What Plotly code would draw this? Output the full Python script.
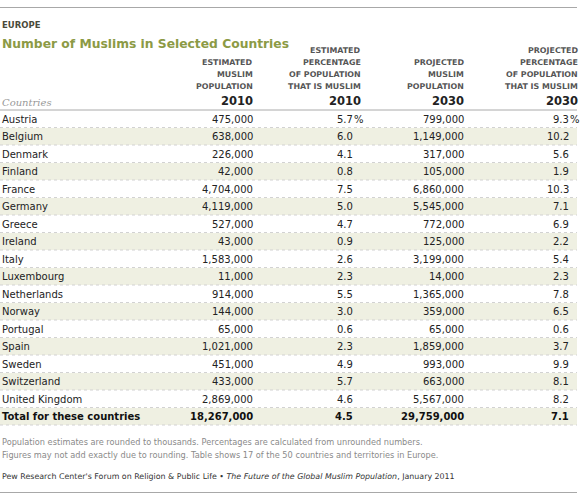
import plotly.graph_objects as go

countries = ["Austria", "Belgium", "Denmark", "Finland", "France", "Germany", "Greece",
             "Ireland", "Italy", "Luxembourg", "Netherlands", "Norway", "Portugal",
             "Spain", "Sweden", "Switzerland", "United Kingdom"]
muslims_2010 = [475000, 638000, 226000, 42000, 4704000, 4119000, 527000, 43000, 1583000,
                11000, 914000, 144000, 65000, 1021000, 451000, 433000, 2869000]
pct_2010 = [5.7, 6.0, 4.1, 0.8, 7.5, 5.0, 4.7, 0.9, 2.6, 2.3, 5.5, 3.0, 0.6, 2.3, 4.9, 5.7, 4.6]
muslims_2030 = [799000, 1149000, 317000, 105000, 6860000, 5545000, 772000, 125000, 3199000,
                14000, 1365000, 359000, 65000, 1859000, 993000, 663000, 5567000]
pct_2030 = [9.3, 10.2, 5.6, 1.9, 10.3, 7.1, 6.9, 2.2, 5.4, 2.3, 7.8, 6.5, 0.6, 3.7, 9.9, 8.1, 8.2]
total_label = "Total for these countries"
total_values = [18267000, 4.5, 29759000, 7.1]
years = ["2010", "2010", "2030", "2030"]
col_headers = [["ESTIMATED", "MUSLIM", "POPULATION"],
               ["ESTIMATED", "PERCENTAGE", "OF POPULATION", "THAT IS MUSLIM"],
               ["PROJECTED", "MUSLIM", "POPULATION"],
               ["PROJECTED", "PERCENTAGE", "OF POPULATION", "THAT IS MUSLIM"]]
kicker = "EUROPE"
title = "Number of Muslims in Selected Countries"
notes = ["Population estimates are rounded to thousands. Percentages are calculated from unrounded numbers.",
         "Figures may not add exactly due to rounding. Table shows 17 of the 50 countries and territories in Europe."]
source = "Pew Research Center's Forum on Religion & Public Life • <i>The Future of the Global Muslim Population</i>, January 2011"

W, H = 582, 498
FONT = "DejaVu Sans"
col_right = [252, 352, 463, 568]
header_right = [252, 360, 463, 577]
row_top0 = 110
row_h = 17.5
table_right = 577

fig = go.Figure()
fig.add_trace(go.Scatter(x=[0, W], y=[0, H], mode="markers", marker=dict(opacity=0),
                         hoverinfo="skip", showlegend=False))
# bottom rule drawn as a line trace
fig.add_trace(go.Scatter(x=[0, table_right], y=[492.5, 492.5], mode="lines",
                         line=dict(color="#a8a8a8", width=1), hoverinfo="skip",
                         showlegend=False, cliponaxis=False))

shapes = []
annotations = []

def text(x, y, s, size, color="#333", bold=False, anchor="left", family=FONT, italic=False):
    if bold:
        s = "<b>" + s + "</b>"
    if italic:
        s = "<i>" + s + "</i>"
    annotations.append(dict(x=x, y=y, xref="x", yref="y", text=s, showarrow=False,
                            xanchor=anchor, yanchor="middle",
                            font=dict(family=family, size=size, color=color),
                            borderpad=0))

# top rule
shapes.append(dict(type="line", x0=0, x1=table_right, y0=7.5, y1=7.5, line=dict(color="#a8a8a8", width=1)))

text(1, 25, kicker, 8.5, color="#4a4a3a", bold=True)
text(1, 44, title, 12.3, color="#8c9a45", bold=True)

# column headers
header_gap = 12
for c, lines in enumerate(col_headers):
    n = len(lines)
    for k, line in enumerate(lines):
        y = 86 - (n - 1 - k) * header_gap
        text(header_right[c] + 2, y, line, 7.9, color="#555", bold=True, anchor="right")
    text(header_right[c] + 2, 101, years[c], 11.5, color="#222", bold=True, anchor="right")

text(1, 102, "Countries", 10, color="#999", italic=True, family="DejaVu Serif")
shapes.append(dict(type="line", x0=0, x1=table_right, y0=row_top0, y1=row_top0,
                   line=dict(color="#aaaaaa", width=1)))

n_rows = len(countries) + 1
for i in range(n_rows):
    top = row_top0 + i * row_h
    if i % 2 == 1:
        shapes.append(dict(type="rect", x0=0, x1=table_right, y0=top + 0.5, y1=top + row_h,
                           fillcolor="#eff0e2", line=dict(width=0), layer="below"))
    shapes.append(dict(type="line", x0=0, x1=table_right, y0=top + row_h, y1=top + row_h,
                       line=dict(color="#d2d2d2", width=1, dash="dot")))

for i, name in enumerate(countries):
    yc = row_top0 + i * row_h + row_h / 2 + 0.5
    text(1, yc, name, 10, color="#222")
    text(col_right[0] + 2, yc, f"{muslims_2010[i]:,}", 10, color="#222", anchor="right")
    text(col_right[1] + 2, yc, f"{pct_2010[i]:.1f}", 10, color="#222", anchor="right")
    text(col_right[3] + 2, yc, f"{pct_2030[i]:.1f}", 10, color="#222", anchor="right")
    if i == 0:
        text(col_right[1] + 1, yc, "%", 10, color="#222", anchor="left")
        text(col_right[3] + 1, yc, "%", 10, color="#222", anchor="left")
    text(col_right[2] + 2, yc, f"{muslims_2030[i]:,}", 10, color="#222", anchor="right")

yc = row_top0 + (n_rows - 1) * row_h + row_h / 2 + 0.5
text(1, yc, total_label, 10, color="#111", bold=True)
text(col_right[0] + 2, yc, f"{total_values[0]:,}", 10, color="#111", bold=True, anchor="right")
text(col_right[1] + 2, yc, f"{total_values[1]:.1f}", 10, color="#111", bold=True, anchor="right")
text(col_right[2] + 2, yc, f"{total_values[2]:,}", 10, color="#111", bold=True, anchor="right")
text(col_right[3] + 2, yc, f"{total_values[3]:.1f}", 10, color="#111", bold=True, anchor="right")

text(1, 442, notes[0], 8.2, color="#8a8a8a")
text(1, 455, notes[1], 8.2, color="#8a8a8a")
text(1, 476, source, 7.9, color="#333")

fig.update_layout(
    width=W, height=H,
    margin=dict(l=0, r=0, t=0, b=0),
    paper_bgcolor="white", plot_bgcolor="white",
    xaxis=dict(range=[0, W], visible=False, fixedrange=True),
    yaxis=dict(range=[H, 0], visible=False, fixedrange=True),
    shapes=shapes, annotations=annotations,
    showlegend=False,
)
fig.write_html("out.html", config={"displayModeBar": False, "staticPlot": True},
               post_script="document.body.style.margin='0';document.body.style.overflow='hidden';")
